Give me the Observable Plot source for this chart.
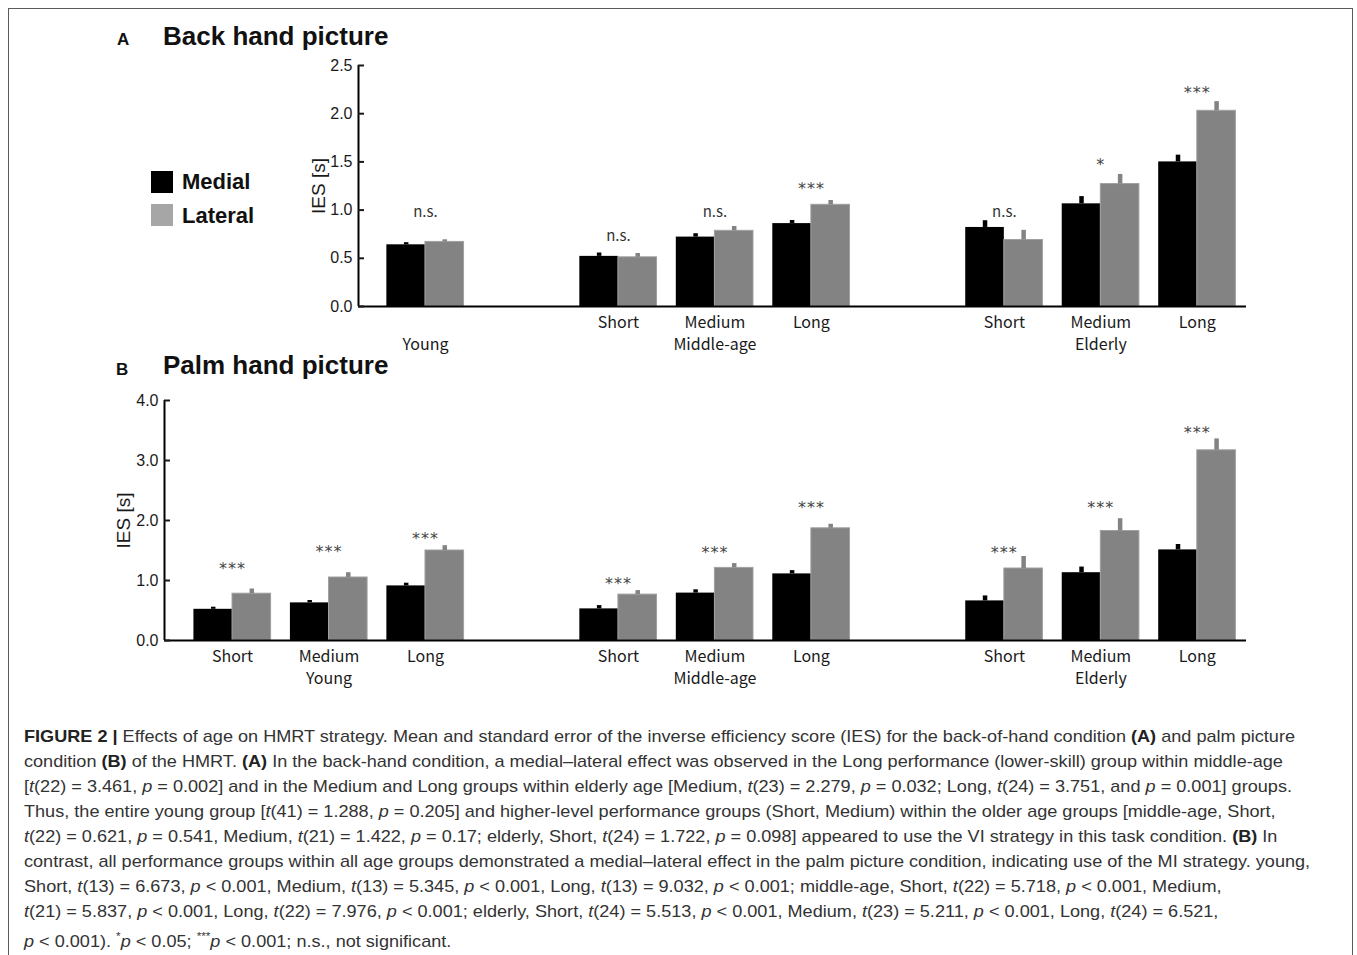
<!DOCTYPE html>
<html><head><meta charset="utf-8">
<script src="https://cdn.jsdelivr.net/npm/d3@7"></script>
<script src="https://cdn.jsdelivr.net/npm/@observablehq/plot@0.6"></script>
<style>
body{margin:0;background:#fff;}
#fig{position:relative;width:1357px;height:955px;overflow:hidden;font-family:"Liberation Sans",Arial,sans-serif;background:#fff;}
.abs{position:absolute;white-space:nowrap;line-height:1;}
#border{position:absolute;left:8px;top:8px;width:1345px;height:1000px;border:1.5px solid #5a5a5a;box-sizing:border-box;}
.title{font-weight:bold;font-size:26px;color:#111;}
.letter{font-weight:bold;font-size:17px;color:#111;}
.leg{font-weight:bold;font-size:22px;color:#111;}
.sw{position:absolute;width:22px;height:22px;}
#caption{position:absolute;left:24px;top:724px;font-size:17px;line-height:25px;color:#333;transform-origin:0 0;}
#caption div{white-space:nowrap;}
#caption b{color:#222;}
</style></head><body>
<div id="fig">
  <div id="border"></div>
  <div class="abs letter" style="left:117px;top:31px;">A</div>
  <div class="abs title" style="left:163px;top:23px;">Back hand picture</div>
  <div class="abs letter" style="left:116px;top:361px;">B</div>
  <div class="abs title" style="left:163px;top:352px;">Palm hand picture</div>
  <div class="sw" style="left:151px;top:171px;background:#000;"></div>
  <div class="sw" style="left:151px;top:204px;background:#a6a6a6;"></div>
  <div class="abs leg" style="left:182px;top:171px;">Medial</div>
  <div class="abs leg" style="left:182px;top:205px;">Lateral</div>
  <div id="plotA" style="position:absolute;left:0;top:50px;"></div>
  <div id="plotB" style="position:absolute;left:0;top:385px;"></div>
  <div id="caption">
    <div id="cap1"><b>FIGURE 2 |</b> Effects of age on HMRT strategy. Mean and standard error of the inverse efficiency score (IES) for the back-of-hand condition <b>(A)</b> and palm picture</div>
    <div>condition <b>(B)</b> of the HMRT. <b>(A)</b> In the back-hand condition, a medial–lateral effect was observed in the Long performance (lower-skill) group within middle-age</div>
    <div>[<i>t</i>(22) = 3.461, <i>p</i> = 0.002] and in the Medium and Long groups within elderly age [Medium, <i>t</i>(23) = 2.279, <i>p</i> = 0.032; Long, <i>t</i>(24) = 3.751, and <i>p</i> = 0.001] groups.</div>
    <div>Thus, the entire young group [<i>t</i>(41) = 1.288, <i>p</i> = 0.205] and higher-level performance groups (Short, Medium) within the older age groups [middle-age, Short,</div>
    <div><i>t</i>(22) = 0.621, <i>p</i> = 0.541, Medium, <i>t</i>(21) = 1.422, <i>p</i> = 0.17; elderly, Short, <i>t</i>(24) = 1.722, <i>p</i> = 0.098] appeared to use the VI strategy in this task condition. <b>(B)</b> In</div>
    <div>contrast, all performance groups within all age groups demonstrated a medial–lateral effect in the palm picture condition, indicating use of the MI strategy. young,</div>
    <div>Short, <i>t</i>(13) = 6.673, <i>p</i> &lt; 0.001, Medium, <i>t</i>(13) = 5.345, <i>p</i> &lt; 0.001, Long, <i>t</i>(13) = 9.032, <i>p</i> &lt; 0.001; middle-age, Short, <i>t</i>(22) = 5.718, <i>p</i> &lt; 0.001, Medium,</div>
    <div><i>t</i>(21) = 5.837, <i>p</i> &lt; 0.001, Long, <i>t</i>(22) = 7.976, <i>p</i> &lt; 0.001; elderly, Short, <i>t</i>(24) = 5.513, <i>p</i> &lt; 0.001, Medium, <i>t</i>(23) = 5.211, <i>p</i> &lt; 0.001, Long, <i>t</i>(24) = 6.521,</div>
    <div><i>p</i> &lt; 0.001). <sup style="font-size:11px">*</sup><i>p</i> &lt; 0.05; <sup style="font-size:11px">***</sup><i>p</i> &lt; 0.001; n.s., not significant.</div>
  </div>
</div>
<script>
// ---------- DATA ----------
const series = ["Medial", "Lateral"];

// Slot order along the x axis ("" = empty gap slot)
const slotsA = ["", "", "Young", "", "Middle-age|Short", "Middle-age|Medium", "Middle-age|Long", "", "Elderly|Short", "Elderly|Medium", "Elderly|Long"];
const slotsB = ["Young|Short", "Young|Medium", "Young|Long", "", "Middle-age|Short", "Middle-age|Medium", "Middle-age|Long", "", "Elderly|Short", "Elderly|Medium", "Elderly|Long"];

// Panel A: Back hand picture
const catsA = ["Young", "Middle-age|Short", "Middle-age|Medium", "Middle-age|Long", "Elderly|Short", "Elderly|Medium", "Elderly|Long"];
const medialA = [0.64, 0.52, 0.72, 0.86, 0.82, 1.065, 1.50];
const medialSEA = [0.022, 0.035, 0.035, 0.032, 0.07, 0.075, 0.07];
const lateralA = [0.67, 0.51, 0.785, 1.055, 0.69, 1.27, 2.03];
const lateralSEA = [0.022, 0.04, 0.045, 0.045, 0.10, 0.10, 0.095];
const sigA = ["n.s.", "n.s.", "n.s.", "***", "n.s.", "*", "***"];
const sigYA = [0.976, 0.727, 0.976, 1.22, 0.976, 1.47, 2.22];

// Panel B: Palm hand picture
const catsB = ["Young|Short", "Young|Medium", "Young|Long", "Middle-age|Short", "Middle-age|Medium", "Middle-age|Long", "Elderly|Short", "Elderly|Medium", "Elderly|Long"];
const medialB = [0.52, 0.627, 0.91, 0.527, 0.79, 1.11, 0.66, 1.13, 1.51];
const medialSEB = [0.035, 0.04, 0.045, 0.055, 0.055, 0.055, 0.083, 0.094, 0.09];
const lateralB = [0.78, 1.05, 1.50, 0.765, 1.21, 1.87, 1.20, 1.825, 3.17];
const lateralSEB = [0.078, 0.08, 0.08, 0.067, 0.072, 0.067, 0.20, 0.205, 0.19];
const sigB = ["***", "***", "***", "***", "***", "***", "***", "***", "***"];
const sigYB = [1.20, 1.48, 1.70, 0.95, 1.46, 2.21, 1.46, 2.21, 3.46];

const yTicksA = [0, 0.5, 1.0, 1.5, 2.0, 2.5];
const yTicksB = [0, 1, 2, 3, 4];
const yLabel = "IES [s]";

// ---------- BUILD ----------
function rowsFor(cats, slots, med, medSE, lat, latSE, sig, sigY) {
  return cats.map((key, i) => {
    const [group, level = ""] = key.split("|");
    return {key, group, level, slot: slots.indexOf(key), medial: med[i], medialSE: medSE[i],
            lateral: lat[i], lateralSE: latSE[i], sig: sig[i], sigY: sigY[i]};
  });
}
function groupsFor(rows) {
  return Array.from(d3.rollup(rows, v => d3.mean(v, d => d.slot), d => d.group), ([group, x]) => ({group, x}));
}

const catFont = "'Noto Sans CJK JP', 'Noto Sans', sans-serif";
const BAR = 0.4;

function panel(rows, {xDomain, yDomain, yTicks, marginLeft, height, labelDx}) {
  const groups = groupsFor(rows);
  const plot = Plot.plot({
    width: 1357, height, marginLeft, marginRight: 111, marginTop: 15, marginBottom: 54,
    style: {background: "transparent", overflow: "visible", fontFamily: "'Liberation Sans', Arial, sans-serif", color: "#1a1a1a"},
    x: {type: "linear", domain: xDomain, axis: null},
    y: {domain: yDomain, axis: null},
    marks: [
      Plot.rect(rows, {x1: d => d.slot - BAR, x2: d => d.slot, y1: 0, y2: "medial", fill: "#000"}),
      Plot.rect(rows, {x1: d => d.slot, x2: d => d.slot + BAR, y1: 0, y2: "lateral", fill: "#838383", stroke: "#a0a0a0", strokeWidth: 1}),
      Plot.ruleX(rows, {x: d => d.slot - BAR / 2, y1: "medial", y2: d => d.medial + d.medialSE, stroke: "#000", strokeWidth: 4.5}),
      Plot.ruleX(rows, {x: d => d.slot + BAR / 2, y1: "lateral", y2: d => d.lateral + d.lateralSE, stroke: "#838383", strokeWidth: 4.5}),
      Plot.ruleY([yDomain[0]], {stroke: "#000", strokeWidth: 2}),
      Plot.ruleX([xDomain[0]], {y1: yDomain[0], y2: yDomain[1], stroke: "#000", strokeWidth: 2}),
      Plot.axisY({ticks: yTicks, tickFormat: d3.format(".1f"), tickSize: 6, dx: 6, tickPadding: 6, strokeWidth: 2, fontSize: 16}),
      Plot.text(rows, {x: "slot", frameAnchor: "bottom", lineAnchor: "middle", text: "level", dy: 16, fontSize: 16, fontFamily: catFont, fill: "#1a1a1a"}),
      Plot.text(groups, {x: "x", frameAnchor: "bottom", lineAnchor: "middle", text: "group", dy: 38, fontSize: 16, fontFamily: catFont, fill: "#1a1a1a"}),
      Plot.text(rows.filter(d => !d.sig.includes("*")), {x: "slot", y: "sigY", text: "sig", fontSize: 15, fontFamily: catFont, fill: "#333"}),
      Plot.text(rows.filter(d => d.sig.includes("*")), {x: "slot", y: "sigY", text: "sig", fontSize: 16, fontFamily: "'DejaVu Sans', sans-serif", fill: "#444"}),
      Plot.text([yLabel], {frameAnchor: "left", textAnchor: "middle", lineAnchor: "middle", rotate: -90, dx: labelDx, fontSize: 19, fill: "#1a1a1a"})
    ]
  });
  plot.querySelectorAll("text").forEach(t => {
    if (t.textContent.includes("*")) t.setAttribute("letter-spacing", "1px");
  });
  return plot;
}

const rowsA = rowsFor(catsA, slotsA, medialA, medialSEA, lateralA, lateralSEA, sigA, sigYA);
const rowsB = rowsFor(catsB, slotsB, medialB, medialSEB, lateralB, lateralSEB, sigB, sigYB);

document.getElementById("plotA").append(panel(rowsA, {xDomain: [1.306, 10.51], yDomain: [0, 2.5], yTicks: yTicksA, marginLeft: 358, height: 310, labelDx: -40}));
document.getElementById("plotB").append(panel(rowsB, {xDomain: [-0.705, 10.51], yDomain: [0, 4], yTicks: yTicksB, marginLeft: 164, height: 309, labelDx: -41}));

// fit caption width to reference line width
const cap = document.getElementById("caption");
const range = document.createRange(); range.selectNodeContents(document.getElementById("cap1"));
const tw = range.getBoundingClientRect().width;
cap.style.transform = `scaleX(${1271 / tw})`;
</script>
</body></html>
